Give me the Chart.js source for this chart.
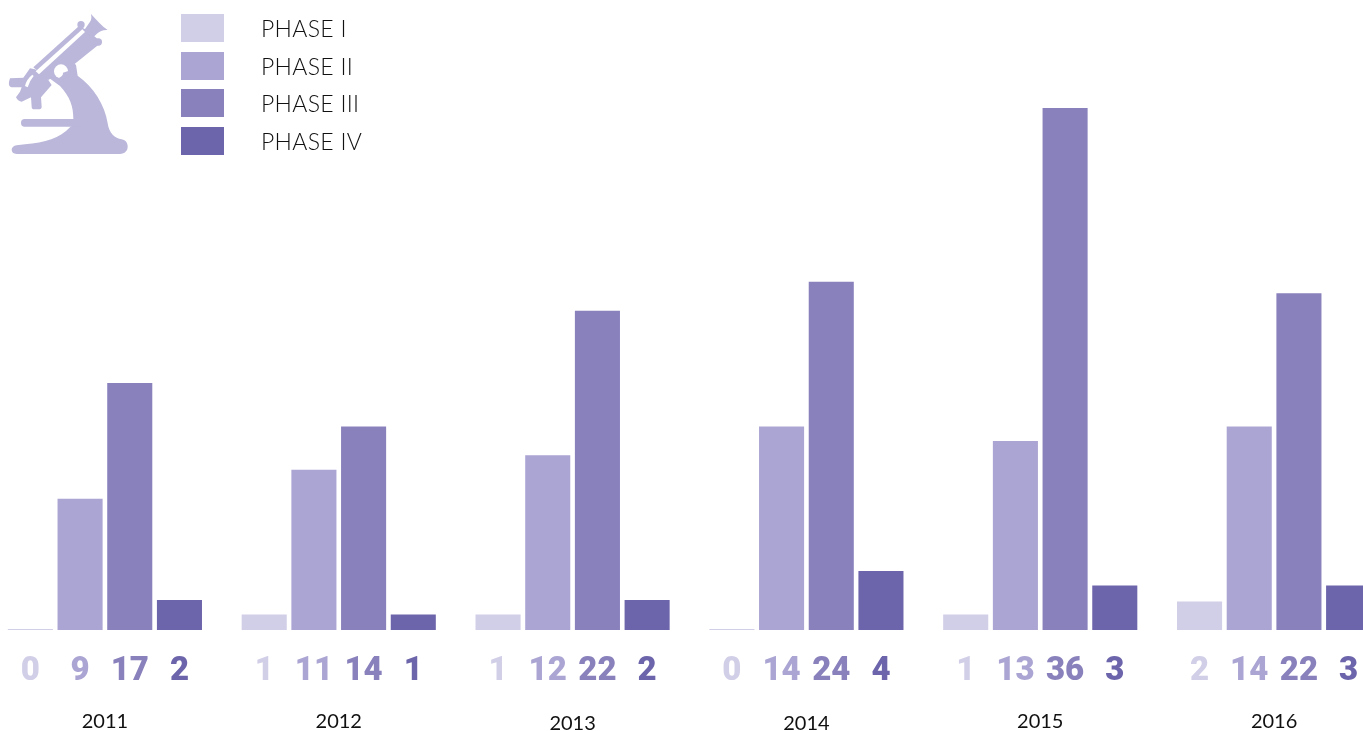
<!DOCTYPE html>
<html>
<head>
<meta charset="utf-8">
<script src="https://cdn.jsdelivr.net/npm/chart.js@4/dist/chart.umd.min.js"></script>
<style>
html,body{margin:0;padding:0;background:#fff;width:1363px;height:731px;overflow:hidden}
#c{position:absolute;left:-12px;top:0}
#icon{position:absolute;left:5px;top:10px}
.k{position:absolute;left:181px;width:43px;height:28px}
.t{position:absolute;left:261px;font:300 23px Lato;color:#111;line-height:28px;letter-spacing:.3px;white-space:nowrap}
</style>
</head>
<body>
<canvas id="c" width="1403" height="731"></canvas>
<svg id="icon" width="128" height="150" viewBox="0 0 384 450">
  <g fill="#BAB7DA">
    <path d="M205 325 C205 290 195 260 165 228 L120 195 L140 155 C160 140 195 145 213 165 L218 197 C265 230 300 285 308 340 C312 370 330 385 350 388 C375 392 375 432 345 432 L35 432 C15 432 15 408 35 406 L60 403 C120 398 165 385 195 352 L205 345 Z"/>
    <rect x="48" y="327" width="195" height="23" rx="11"/>
    <path d="M85 172 L222 48 L245 60 L290 97 L205 165 L130 210 Z"/>
    <path d="M15 205 L55 203 L75 175 L90 178 L120 195 L140 225 L108 262 L110 290 Q110 298 100 298 L88 298 Q80 298 80 290 L78 262 L50 275 Q40 275 33 262 L45 245 L50 232 L20 232 Q10 230 12 215 Z"/>
    <path d="M252 40 Q262 30 258 12 C275 30 290 48 308 60 Q290 58 275 72 L262 85 L238 60 Z"/>
    <circle cx="228" cy="44" r="11"/>
    <circle cx="280" cy="96" r="11"/>
    <path fill="#fff" d="M92 184 L232 58 L240 66 L102 193 Z"/>
    <path fill="#fff" d="M60 228 Q64 208 82 194 L86 198 Q74 212 68 232 Z"/>
    <circle cx="168" cy="184" r="21" fill="#fff"/>
    <path d="M156 206 C175 214 192 202 192 182 L174 188 Q176 198 156 206 Z"/>
  </g>
</svg>
<div id="legend"></div>
<script>
const years = ['2011','2012','2013','2014','2015','2016'];
const seriesNames = ['PHASE I','PHASE II','PHASE III','PHASE IV'];
const phase1 = [0,1,1,0,1,1.9];
const phase2 = [9,11,12,14,13,14];
const phase3 = [17,14,22,24,36,23.2];
const phase4 = [2,1,2,4,3,3];
const phase1Labels = [0,1,1,0,1,2];
const phase2Labels = [9,11,12,14,13,14];
const phase3Labels = [17,14,22,24,36,22];
const phase4Labels = [2,1,2,4,3,3];
const colors = ['#D1CEE7','#ABA5D3','#8981BC','#6C65AB'];
const legendTops = [14,52,89,127];
const yearNudge = [0,0,2,2,0,0];
const shownLabels = [phase1Labels,phase2Labels,phase3Labels,phase4Labels];

const legend = document.getElementById('legend');
seriesNames.forEach((n,i)=>{
  const k=document.createElement('div');k.className='k';k.style.top=legendTops[i]+'px';k.style.background=colors[i];
  const t=document.createElement('div');t.className='t';t.style.top=legendTops[i]+'px';t.textContent=n;
  legend.append(k,t);
});

const valueLabels = {
  id:'valueLabels',
  afterDatasetsDraw(chart){
    const ctx=chart.ctx, y=chart.chartArea.bottom+42;
    ctx.save();
    ctx.font='900 33px Roboto';
    ctx.textAlign='center';ctx.textBaseline='middle';
    chart.data.datasets.forEach((ds,d)=>{
      ctx.fillStyle=ds.backgroundColor;
      chart.getDatasetMeta(d).data.forEach((bar,i)=>ctx.fillText(String(shownLabels[d][i]),bar.x,y));
    });
    ctx.restore();
  }
};
const nudgeYears = {
  id:'nudgeYears',
  beforeDraw(chart){
    chart.scales.x.getLabelItems().forEach((it,i)=>{
      if(!it._n){it._n=1; it.options.translation=[it.options.translation[0],it.options.translation[1]+yearNudge[i]];}
    });
  }
};

new Chart(document.getElementById('c'),{
  type:'bar',
  data:{labels:years,datasets:[phase1,phase2,phase3,phase4].map((d,i)=>({
    label:seriesNames[i],data:d,backgroundColor:colors[i],base:-0.07,
    categoryPercentage:.85,barPercentage:.907,borderWidth:0
  }))},
  options:{
    responsive:false,animation:false,
    devicePixelRatio:1,
    layout:{padding:0},
    plugins:{legend:{display:false},tooltip:{enabled:false}},
    scales:{
      x:{
        grid:{display:false},border:{display:false},
        afterFit(s){s.height=101},
        ticks:{color:'#111',font:{family:'Lato',size:20,weight:'400'},padding:72,maxRotation:0,autoSkip:false}
      },
      y:{display:false,min:-0.07,max:43.47}
    }
  },
  plugins:[valueLabels,nudgeYears]
});
</script>
</body>
</html>
